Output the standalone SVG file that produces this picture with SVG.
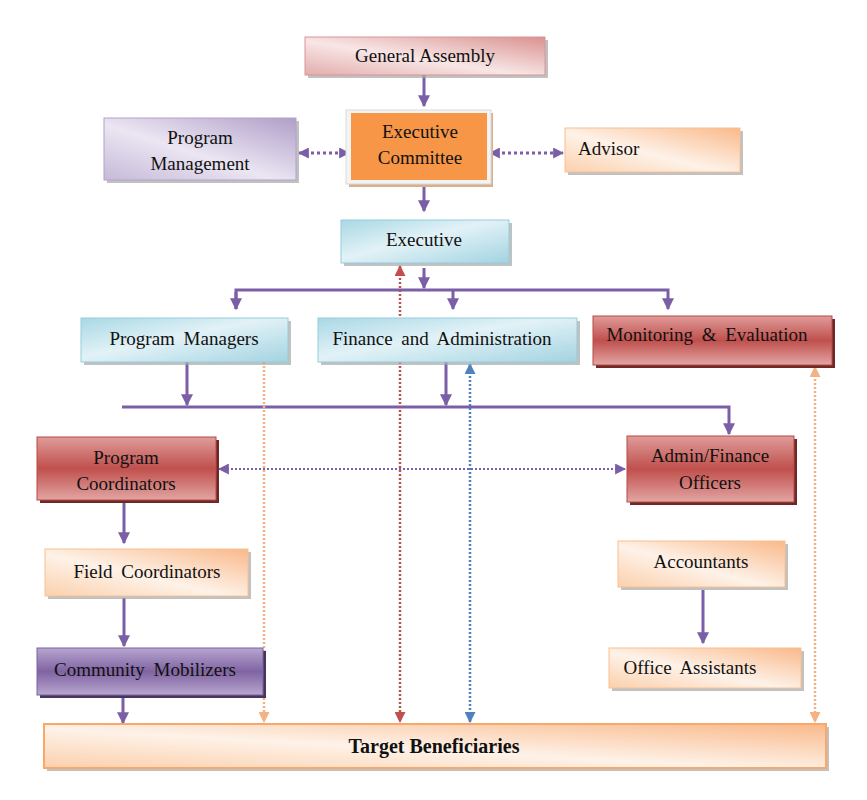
<svg xmlns="http://www.w3.org/2000/svg" width="867" height="800" viewBox="0 0 867 800">
<defs>
<linearGradient id="gPink" x1="0" y1="1" x2="1" y2="0"><stop offset="0" stop-color="#e3adac"/><stop offset="0.45" stop-color="#f8e6e6"/><stop offset="1" stop-color="#d99290"/></linearGradient>
<linearGradient id="gBlue" x1="0" y1="0" x2="1" y2="1"><stop offset="0" stop-color="#a9d8e5"/><stop offset="0.45" stop-color="#e2f2f7"/><stop offset="1" stop-color="#a3d3e1"/></linearGradient>
<linearGradient id="gOrange" x1="0" y1="1" x2="1" y2="0"><stop offset="0" stop-color="#fbd0ad"/><stop offset="0.45" stop-color="#fef2e8"/><stop offset="1" stop-color="#f9b98a"/></linearGradient>
<linearGradient id="gLav" x1="0" y1="1" x2="1" y2="0"><stop offset="0" stop-color="#c6b9d9"/><stop offset="0.45" stop-color="#ebe6f2"/><stop offset="1" stop-color="#b09ec8"/></linearGradient>
<linearGradient id="gRed" x1="0" y1="0" x2="0" y2="1"><stop offset="0" stop-color="#df9c9a"/><stop offset="0.5" stop-color="#c0504d"/><stop offset="1" stop-color="#e2a5a3"/></linearGradient>
<linearGradient id="gPurple" x1="0" y1="0" x2="0" y2="1"><stop offset="0" stop-color="#b7a6cf"/><stop offset="0.5" stop-color="#8064a2"/><stop offset="1" stop-color="#b7a6cf"/></linearGradient>
<marker id="aP" viewBox="0 0 10 10" refX="9" refY="5" markerWidth="4" markerHeight="4" orient="auto-start-reverse" markerUnits="strokeWidth"><path d="M0,0 L10,5 L0,10 z" fill="#7a5fa6"/></marker>
<marker id="aPd" viewBox="0 0 10 10" refX="9" refY="5" markerWidth="11" markerHeight="11" orient="auto-start-reverse" markerUnits="userSpaceOnUse"><path d="M0,0 L10,5 L0,10 z" fill="#7a5fa6"/></marker>
<marker id="aO" viewBox="0 0 10 10" refX="9" refY="5" markerWidth="11" markerHeight="11" orient="auto-start-reverse" markerUnits="userSpaceOnUse"><path d="M0,0 L10,5 L0,10 z" fill="#f4b183"/></marker>
<marker id="aR" viewBox="0 0 10 10" refX="9" refY="5" markerWidth="11" markerHeight="11" orient="auto-start-reverse" markerUnits="userSpaceOnUse"><path d="M0,0 L10,5 L0,10 z" fill="#c0504d"/></marker>
<marker id="aB" viewBox="0 0 10 10" refX="9" refY="5" markerWidth="11" markerHeight="11" orient="auto-start-reverse" markerUnits="userSpaceOnUse"><path d="M0,0 L10,5 L0,10 z" fill="#4f81bd"/></marker>
</defs>
<style>
text{font-family:"Liberation Serif","Times New Roman",serif;font-size:19px;fill:#111;text-anchor:middle}
.b{font-weight:bold;font-size:20px}
.ws{word-spacing:4px}
.sh{fill:#a6a6a6;opacity:.7}
.shR{fill:#6e2826}
.shP{fill:#46365e}
.solid{stroke:#7a5fa6;stroke-width:3;fill:none}
.dot{stroke:#7a5fa6;stroke-width:3;fill:none;stroke-dasharray:3 3}
.dotT{stroke:#7a5fa6;stroke-width:2;fill:none;stroke-dasharray:2 2}
.vO{stroke:#f4b183;stroke-width:2.5;stroke-dasharray:2 2;fill:none}
.vR{stroke:#c0504d;stroke-width:2.5;stroke-dasharray:2 2;fill:none}
.vB{stroke:#4f81bd;stroke-width:2.5;stroke-dasharray:2 2;fill:none}
</style>

<g id="connectors">
<path class="solid" d="M424,75 V106" marker-end="url(#aP)"/>
<path class="dot" d="M299,153 H349" marker-start="url(#aPd)" marker-end="url(#aPd)"/>
<path class="dot" d="M490,153 H563" marker-start="url(#aPd)" marker-end="url(#aPd)"/>
<path class="solid" d="M424,182 V211" marker-end="url(#aP)"/>
<path class="solid" d="M424,268 V288" marker-end="url(#aP)"/>
<path class="solid" d="M236,309 V290 H668 V309" marker-end="url(#aP)"/>
<path class="solid" d="M236,292 V309" marker-end="url(#aP)"/>
<path class="solid" d="M453,290 V309" marker-end="url(#aP)"/>
<path class="solid" d="M187,362 V405" marker-end="url(#aP)"/>
<path class="solid" d="M446,358 V405" marker-end="url(#aP)"/>
<path class="solid" d="M122,407 H729 V434" marker-end="url(#aP)"/>
<path class="dotT" d="M219,469 H625" marker-start="url(#aPd)" marker-end="url(#aPd)"/>
<path class="solid" d="M124,503 V543" marker-end="url(#aP)"/>
<path class="solid" d="M124,598 V646" marker-end="url(#aP)"/>
<path class="solid" d="M123,697 V723" marker-end="url(#aP)"/>
<path class="solid" d="M703,590 V643" marker-end="url(#aP)"/>
<path class="vO" d="M264,338 V722" marker-start="url(#aO)" marker-end="url(#aO)"/>
<path class="vR" d="M400,266 V722" marker-start="url(#aR)" marker-end="url(#aR)"/>
<path class="vB" d="M470,364 V722" marker-start="url(#aB)" marker-end="url(#aB)"/>
<path class="vO" d="M815,367 V722" marker-start="url(#aO)" marker-end="url(#aO)"/>
</g>

<g id="general-assembly">
<rect class="sh" x="308" y="40" width="240" height="38"/>
<rect x="305" y="37" width="240" height="38" fill="url(#gPink)" stroke="#d99694"/>
<text x="425" y="62">General Assembly</text>
</g>

<g id="program-management">
<rect class="sh" x="107" y="121" width="192" height="62"/>
<rect x="104" y="118" width="192" height="62" fill="url(#gLav)" stroke="#b3a2c7"/>
<text x="200" y="144">Program</text>
<text x="200" y="170">Management</text>
</g>

<g id="executive-committee">
<rect x="349" y="113" width="144" height="74" fill="#d8b08c"/>
<rect x="346" y="110" width="145" height="74" fill="#f4f4f4" stroke="#d9d9d9"/>
<rect x="351" y="113" width="136" height="67" fill="#f79646"/>
<text x="420" y="138">Executive</text>
<text x="420" y="164">Committee</text>
</g>

<g id="advisor">
<rect class="sh" x="568" y="131" width="175" height="44"/>
<rect x="565" y="128" width="175" height="44" fill="url(#gOrange)" stroke="#fac090"/>
<text x="578" y="155" style="text-anchor:start">Advisor</text>
</g>

<g id="executive">
<rect class="sh" x="344" y="223" width="168" height="43"/>
<rect x="341" y="220" width="168" height="43" fill="url(#gBlue)" stroke="#93cddd"/>
<text x="424" y="246">Executive</text>
</g>

<g id="program-managers">
<rect class="sh" x="84" y="321" width="207" height="44"/>
<rect x="81" y="318" width="207" height="44" fill="url(#gBlue)" stroke="#93cddd"/>
<text class="ws" x="184" y="345">Program Managers</text>
</g>

<g id="finance-administration">
<rect class="sh" x="321" y="321" width="259" height="44"/>
<rect x="318" y="318" width="259" height="44" fill="url(#gBlue)" stroke="#93cddd"/>
<text class="ws" x="442" y="345">Finance and Administration</text>
</g>

<g id="monitoring-evaluation">
<rect class="shR" x="596" y="319" width="239" height="49"/>
<rect x="593" y="316" width="239" height="49" fill="url(#gRed)" stroke="#b84a47"/>
<text class="ws" x="707" y="341">Monitoring &amp; Evaluation</text>
</g>

<g id="program-coordinators">
<rect class="shR" x="40" y="440" width="179" height="63"/>
<rect x="37" y="437" width="179" height="63" fill="url(#gRed)" stroke="#b84a47"/>
<text x="126" y="464">Program</text>
<text x="126" y="490">Coordinators</text>
</g>

<g id="admin-finance-officers">
<rect class="shR" x="630" y="439" width="167" height="66"/>
<rect x="627" y="436" width="167" height="66" fill="url(#gRed)" stroke="#b84a47"/>
<text x="710" y="462">Admin/Finance</text>
<text x="710" y="489">Officers</text>
</g>

<g id="field-coordinators">
<rect class="sh" x="48" y="552" width="203" height="47"/>
<rect x="45" y="549" width="203" height="47" fill="url(#gOrange)" stroke="#fac090"/>
<text class="ws" x="147" y="578">Field Coordinators</text>
</g>

<g id="community-mobilizers">
<rect class="shP" x="40" y="651" width="226" height="47"/>
<rect x="37" y="648" width="226" height="47" fill="url(#gPurple)" stroke="#7d63a0"/>
<text class="ws" x="145" y="676">Community Mobilizers</text>
</g>

<g id="accountants">
<rect class="sh" x="621" y="544" width="167" height="46"/>
<rect x="618" y="541" width="167" height="46" fill="url(#gOrange)" stroke="#fac090"/>
<text x="701" y="568">Accountants</text>
</g>

<g id="office-assistants">
<rect class="sh" x="612" y="651" width="192" height="40"/>
<rect x="609" y="648" width="192" height="40" fill="url(#gOrange)" stroke="#fac090"/>
<text class="ws" x="690" y="674">Office Assistants</text>
</g>

<g id="target-beneficiaries">
<rect class="sh" x="47" y="727" width="782" height="44"/>
<rect x="44" y="724" width="782" height="44" fill="url(#gOrange)" stroke="#f6a96b" stroke-width="2"/>
<text class="b" x="434" y="753">Target Beneficiaries</text>
</g>
</svg>
